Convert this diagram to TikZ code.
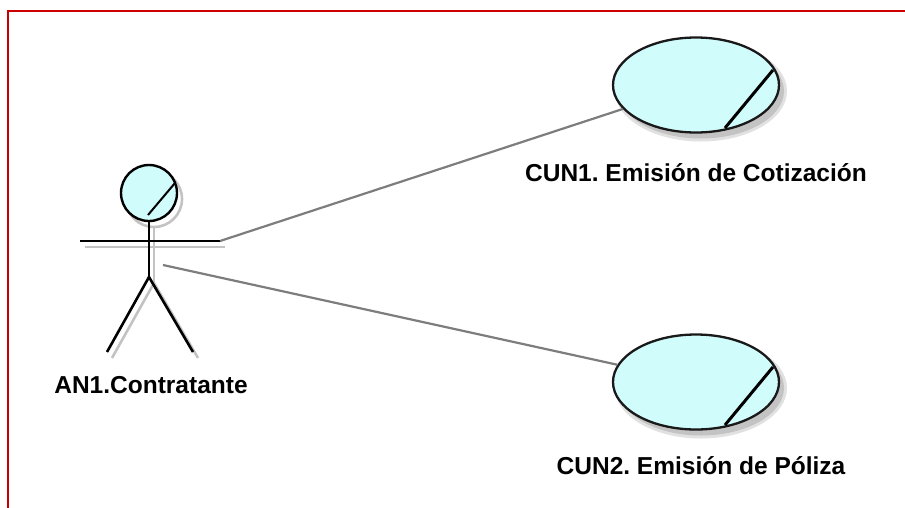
\documentclass[tikz,border=0pt]{standalone}
\usepackage{fontspec}
\setmainfont{Liberation Sans}
\usetikzlibrary{shapes.geometric,calc}
\definecolor{ucfill}{RGB}{208,252,252}
\definecolor{frame}{RGB}{204,0,0}
\definecolor{linkgray}{RGB}{125,125,125}
\definecolor{shadowgray}{RGB}{195,195,195}
\frenchspacing
\tikzset{
  usecase/.style={ellipse, draw=black!90, line width=2.3pt, fill=ucfill,
    minimum width=166pt, minimum height=95pt, inner sep=0pt},
  ucshadow/.style={ellipse, fill=shadowgray, draw=none,
    minimum width=166pt, minimum height=95pt, inner sep=0pt},
  limb/.style={draw=black, line width=2.6pt},
  limbshadow/.style={draw=shadowgray, line width=2.6pt},
  link/.style={draw=linkgray, line width=2.2pt},
  lbl/.style={font=\bfseries\fontsize{24.5}{28}\selectfont, text=black, inner sep=0pt},
  slashmark/.style={draw=black, line width=3pt}
}
\begin{document}
\begin{tikzpicture}[x=1pt, y=-1pt]
  \useasboundingbox (0,0) rectangle (905,507);
  % frame around the diagram
  \draw[frame, line width=2.5pt] (8,11) rectangle (930,530);

  % --- actor shadow ---
  \begin{scope}[shift={(5,6)}]
    \draw[limbshadow] (149,193) circle (28);
    \draw[limbshadow] (80,241) -- (220,241);
    \draw[limbshadow] (149,222) -- (149,277);
    \draw[limbshadow] (107,352) -- (149,277) -- (193,352);
  \end{scope}

  % --- actor ---
  \node[circle, draw=black, line width=2.4pt, fill=ucfill, minimum size=56pt, inner sep=0pt] (head) at (149,193) {};
  \draw[black, line width=2pt] ($(head.center)+(26,-10)$) -- ($(head.center)+(-1,22)$);
  \coordinate (armL) at (80,241);
  \coordinate (armR) at (220,241);
  \coordinate (hip) at (149,277);
  \coordinate (waist) at (163,265);
  \coordinate (footL) at (107,352);
  \coordinate (footR) at (193,352);
  \draw[limb] (armL) -- (armR);
  \draw[limb] (head.south) -- (hip);
  \draw[limb] (footL) -- (hip) -- (footR);
  \node[lbl] (actorlbl) at (151,385) {AN1.Contratante};

  % --- use cases (soft drop shadows first) ---
  \node[ucshadow, opacity=0.5, minimum width=172pt, minimum height=101pt] (sh1o) at (701,91) {};
  \node[ucshadow, opacity=0.5, minimum width=172pt, minimum height=101pt] (sh2o) at (701,388) {};
  \node[ucshadow] (sh1) at (701,91) {};
  \node[ucshadow] (sh2) at (701,388) {};
  \node[usecase] (uc1) at (696,85) {};
  \node[usecase] (uc2) at (696,382) {};
  \draw[slashmark] ($(uc1.center)+(77,-15)$) -- ($(uc1.center)+(29,43)$);
  \draw[slashmark] ($(uc2.center)+(77,-15)$) -- ($(uc2.center)+(29,43)$);
  \node[lbl] (uc1lbl) at (696,173) {CUN1. Emisión de Cotización};
  \node[lbl] (uc2lbl) at (701,466) {CUN2. Emisión de Póliza};

  % --- associations ---
  \draw[link] (armR) -- (uc1);
  \draw[link] (waist) -- (uc2);
\end{tikzpicture}
\end{document}
